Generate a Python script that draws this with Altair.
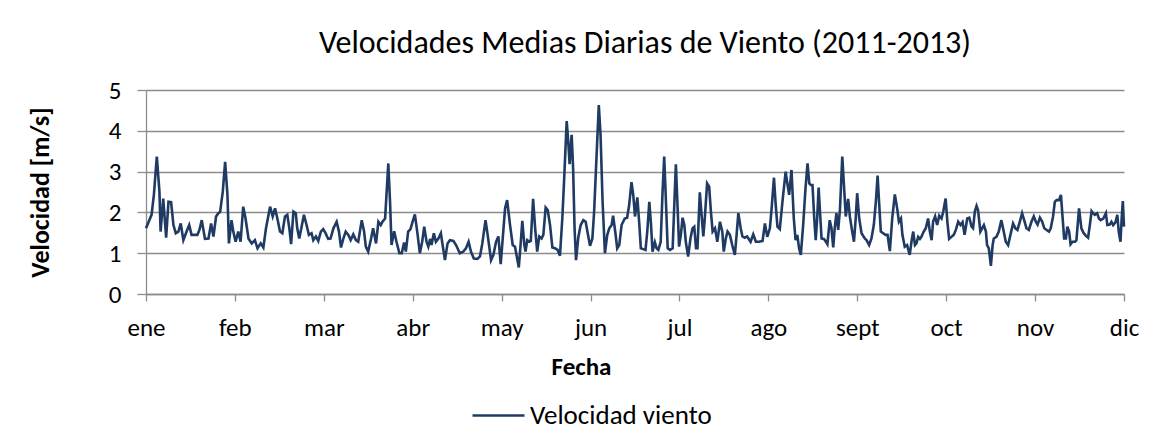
import altair as alt
import pandas as pd

# Day of year (0 = 1 ene, 335 = 1 dic) and daily mean wind speed [m/s]
dia = [
    0.0, 1.9, 2.7, 3.7, 4.6, 5.0, 5.9, 6.9, 7.7, 8.6, 9.4, 10.2, 11.1, 11.9, 12.8, 13.9, 14.8, 15.6, 16.4, 17.6,
    18.3, 19.1, 20.2, 21.4, 22.3, 23.1, 24.0, 24.8, 25.4, 26.3, 27.1, 27.9, 28.4, 29.3, 29.9, 30.7, 31.6, 32.4,
    33.3, 34.1, 35.1, 36.2, 37.3, 38.2, 39.3,
    40.2, 41.1, 42.5, 43.4, 44.2, 45.0, 45.9, 46.7, 47.6, 48.4, 49.1, 49.7, 50.5, 51.3, 51.8, 52.5, 53.3, 54.1,
    55.0, 55.8, 56.7, 57.3, 58.2, 59.0, 59.9, 60.7, 61.5, 62.4, 63.2, 64.2, 65.3, 66.1, 66.8, 67.6, 68.4, 69.3,
    70.1, 71.0, 71.9, 72.7, 73.9, 74.7, 75.3, 76.1, 77.1, 77.8, 78.8, 79.6, 80.4, 81.0, 81.9,
    83.0, 83.6, 84.1, 85.0, 85.8, 86.8, 87.6, 88.4, 89.0, 89.8, 90.6, 91.3, 92.1, 92.9, 93.8, 94.6, 95.3, 96.1,
    96.7, 97.3, 97.8, 98.6, 99.3, 100.1, 101.0, 101.6, 102.4, 103.3, 104.1, 105.3, 106.2, 107.5, 108.7, 109.6,
    110.5, 111.3, 112.3, 113.5, 114.4, 115.2, 116.3, 117.2, 118.2, 119.0, 119.9, 120.7, 121.5, 123.0,
    123.7, 124.7, 125.6, 126.4, 126.9, 127.7, 128.3, 128.9, 129.6, 130.0, 130.6, 131.3, 131.8, 132.6, 133.3,
    134.0, 134.7, 135.5, 136.1, 136.9, 137.6, 138.4, 139.2, 140.1, 141.0, 141.8, 142.6, 143.3, 144.1, 144.6,
    145.1, 145.8, 146.3, 146.8, 147.3, 148.1, 148.9, 149.8, 150.6, 151.3, 152.1, 152.9, 153.5, 154.3, 155.1,
    155.7, 156.4, 157.2, 158.0, 158.7, 159.5, 160.0, 160.8, 161.4, 162.1, 162.9, 164.0,
    164.8, 165.5, 166.3, 166.9, 167.5, 168.3, 169.0, 169.5, 170.3, 171.1, 171.7, 172.4, 173.0, 173.5, 174.3,
    174.9, 175.5, 176.3, 176.9, 177.5, 178.1, 178.7, 179.5, 180.4, 181.0, 181.5, 182.1, 182.6, 183.2, 183.8,
    184.4, 184.9, 185.7, 186.5, 187.2, 187.8, 188.4, 188.9, 189.7, 190.3, 190.9, 191.4, 192.2, 192.9, 193.5,
    194.1, 194.9, 195.7, 196.6, 197.4, 197.9, 198.6, 199.2, 200.0, 200.8, 201.7, 202.3, 202.9, 203.7, 204.3,
    205.1, 205.9, 207.1, 208.0, 208.9, 210.0, 211.2, 212.0, 212.8, 213.7, 214.3, 215.1, 215.7, 216.3, 217.1,
    218.0, 219.1, 219.6, 220.3, 221.1, 221.9, 222.5, 223.1, 223.7, 224.3, 225.1, 225.9, 226.6, 227.2, 227.7,
    228.3, 228.9, 229.4, 229.9, 230.4, 230.8, 231.4, 232.2, 232.9, 233.4, 234.2, 234.8, 235.4, 235.9, 236.5,
    237.1, 237.7, 238.5, 239.2, 239.7, 240.5, 241.1, 241.9, 242.5, 243.1, 243.6, 244.3, 245.1,
    246.2, 246.8, 247.7, 248.5, 249.3, 250.0, 250.6, 251.1, 251.7, 252.5, 253.3, 254.0, 254.8, 255.6, 256.5,
    257.3, 257.9, 258.6, 259.1, 259.9, 260.7, 261.6, 262.2, 262.8, 263.4, 263.9, 264.5, 265.1, 265.6, 266.4,
    267.1, 267.9, 268.5, 269.1, 269.6, 270.3, 271.0, 271.7, 272.5, 273.1, 273.9, 274.5, 275.1, 275.9, 276.7,
    277.4, 278.2, 279.0, 279.7, 280.4, 281.3, 282.0, 282.8, 283.3, 283.9, 284.5, 285.0, 285.8,
    287.0, 287.7, 288.1, 288.7, 289.4, 290.0, 290.4, 291.3, 292.1, 293.0, 293.8, 294.5, 295.3, 296.1, 297.0,
    297.8, 298.5, 299.3, 300.1, 300.8, 301.6, 302.4, 303.3, 304.1, 304.8, 305.4, 306.2, 307.0, 307.7, 308.5,
    309.3, 309.9, 310.7, 311.3, 311.9, 312.7, 313.4, 313.9, 314.5, 315.1, 315.6, 316.2, 316.7, 317.4, 318.2,
    318.7, 319.6, 320.4, 321.2, 321.9, 322.7, 323.3, 323.9, 324.4, 325.0, 325.8, 326.4, 327.0, 327.9, 328.8,
    329.3, 330.1, 330.7, 331.3, 332.1, 332.7, 333.2, 333.8, 334.2, 334.6, 335.0,
]

velocidad = [
    1.61, 1.94, 2.43, 3.37, 2.51, 1.53, 2.34, 1.38, 2.26, 2.25, 1.69, 1.49, 1.53, 1.73, 1.32, 1.53, 1.69, 1.45, 1.45, 1.45,
    1.57, 1.81, 1.35, 1.36, 1.73, 1.41, 1.90, 1.98, 2.02, 2.51, 3.24, 2.43, 1.24, 1.81, 1.53, 1.28, 1.53, 1.28,
    2.14, 1.85, 1.36, 1.24, 1.32, 1.12, 1.24,
    1.14, 1.61, 2.14, 1.90, 2.10, 1.85, 1.53, 1.49, 1.90, 1.94, 1.61, 1.22, 2.02, 1.98, 1.61, 1.36, 1.65, 1.94,
    1.69, 1.45, 1.49, 1.32, 1.41, 1.30, 1.53, 1.59, 1.49, 1.35, 1.36, 1.61, 1.77, 1.53, 1.14, 1.36, 1.53, 1.45,
    1.32, 1.46, 1.32, 1.28, 1.81, 1.53, 1.16, 1.04, 1.36, 1.61, 1.24, 1.77, 1.69, 1.77, 1.85,
    3.20, 2.25, 1.20, 1.54, 1.28, 1.00, 1.00, 1.26, 1.04, 1.53, 1.59, 1.77, 1.95, 1.53, 1.00, 1.28, 1.65, 1.28,
    1.16, 1.35, 1.20, 1.49, 1.28, 1.35, 1.49, 1.20, 0.83, 1.24, 1.32, 1.30, 1.20, 1.00, 1.04, 1.12,
    1.28, 1.04, 0.87, 0.86, 0.92, 1.24, 1.81, 1.36, 0.83, 0.96, 1.28, 1.41, 0.73, 2.10,
    2.30, 1.69, 1.20, 1.16, 0.96, 0.65, 1.20, 1.79, 1.20, 1.04, 1.32, 1.28, 1.30, 2.33, 1.61,
    1.04, 1.41, 1.36, 1.45, 2.12, 2.06, 1.69, 1.14, 1.12, 1.08, 0.94, 1.85, 2.92, 4.24, 3.77,
    3.18, 3.90, 3.08, 1.61, 0.83, 1.40, 1.69, 1.81, 1.77, 1.49, 1.18, 1.36, 2.02, 3.33, 4.63,
    3.90, 2.26, 1.00, 1.45, 1.61, 1.69, 1.92, 1.49, 1.12, 1.20, 1.69, 1.85,
    1.87, 2.18, 2.74, 2.43, 1.90, 2.37, 1.69, 1.12, 1.10, 1.08, 1.53, 2.26, 1.69, 1.04, 1.27,
    1.12, 1.08, 1.28, 2.43, 3.37, 2.26, 1.12, 1.08, 1.12, 2.26, 3.18, 2.10, 1.16, 1.45, 1.87,
    1.69, 1.28, 0.92, 1.36, 1.61, 1.65, 1.12, 1.12, 2.49, 1.94, 1.41, 1.85, 2.71, 2.63, 2.02,
    1.53, 1.61, 1.28, 1.77, 1.53, 1.04, 1.36, 1.53, 1.45, 1.20, 0.96, 1.45, 1.98, 1.61, 1.41,
    1.38, 1.41, 1.28, 1.46, 1.28, 1.28, 1.30, 1.73, 1.40, 1.61, 2.10, 2.85, 2.18, 1.65, 1.59,
    2.26, 3.00, 2.75, 2.43, 3.04, 1.85, 1.32, 1.45, 1.12, 0.96, 1.69, 2.59, 3.20, 2.71, 2.67,
    2.67, 1.85, 1.32, 1.85, 2.61, 2.10, 1.36, 1.35, 1.28, 1.22, 1.81, 1.61, 1.14, 1.61, 1.98,
    1.57, 2.06, 3.37, 2.51, 1.90, 2.33, 1.90, 1.53, 1.28, 1.85, 2.47, 1.85, 1.49,
    1.36, 1.32, 1.20, 1.36, 1.69, 2.26, 2.90, 2.26, 1.53, 1.49, 1.45, 1.45, 1.05, 1.85, 2.44,
    2.10, 1.77, 1.85, 1.45, 1.16, 1.20, 0.96, 1.28, 1.53, 1.20, 1.24, 1.40, 1.35, 1.40, 1.53,
    1.61, 1.85, 1.53, 1.32, 1.77, 1.90, 1.69, 1.92, 1.85, 2.02, 2.34, 1.77, 1.35, 1.40, 1.45,
    1.57, 1.77, 1.69, 1.76, 1.45, 1.85, 1.87, 1.65, 1.61, 2.02, 2.16, 2.06, 1.53,
    1.69, 1.53, 1.20, 1.12, 0.69, 1.20, 1.36, 1.40, 1.53, 1.81, 1.53, 1.28, 1.20, 1.45, 1.73,
    1.61, 1.57, 1.77, 1.98, 1.81, 1.61, 1.57, 1.77, 1.90, 1.77, 1.70, 1.87, 1.77, 1.61, 1.57,
    1.53, 1.61, 1.90, 2.26, 2.30, 2.30, 2.43, 1.94, 1.36, 1.36, 1.65, 1.53, 1.22, 1.28, 1.28,
    1.32, 2.10, 1.61, 1.49, 1.43, 1.38, 1.69, 2.03, 1.98, 1.94, 1.98, 1.85, 1.81, 1.85, 1.98,
    1.69, 1.70, 1.77, 1.69, 1.76, 1.94, 1.53, 1.28, 1.85, 2.28, 1.65,
]

meses = ["ene", "feb", "mar", "abr", "may", "jun", "jul", "ago", "sept", "oct", "nov", "dic"]
serie = "Velocidad viento"

df = pd.DataFrame({"dia": dia, "velocidad": velocidad, "serie": serie})

dias_total = 335
tick_vals = [i * dias_total / 11 for i in range(12)]
meses_expr = "[" + ",".join("'%s'" % m for m in meses) + "]"

FONT = "Carlito, Lato, sans-serif"
GRID = "#8c8c8c"
LINE = "#1f3a63"

chart = (
    alt.Chart(df)
    .mark_line(strokeWidth=2.6, interpolate="linear")
    .encode(
        x=alt.X(
            "dia:Q",
            scale=alt.Scale(domain=[0, dias_total], nice=False, zero=False),
            axis=alt.Axis(
                values=tick_vals,
                labelExpr=meses_expr + "[round(datum.value / (" + str(dias_total) + " / 11))]",
                title="Fecha",
                grid=False,
                tickSize=7,
                labelPadding=14,
                labelFontSize=25,
                titleFontSize=25,
                titleFontWeight="bold",
                titlePadding=14,
                titleX=435,
                labelFlush=False,
                labelOverlap=False,
            ),
        ),
        y=alt.Y(
            "velocidad:Q",
            scale=alt.Scale(domain=[0, 5], nice=False),
            axis=alt.Axis(
                values=[0, 1, 2, 3, 4, 5],
                title="Velocidad [m/s]",
                grid=True,
                tickSize=9,
                labelPadding=16,
                labelFontSize=25,
                titleFontSize=26,
                titleFontWeight="bold",
                titlePadding=55,
            ),
        ),
        color=alt.Color(
            "serie:N",
            scale=alt.Scale(domain=[serie], range=[LINE]),
            legend=alt.Legend(
                title=None,
                orient="none",
                legendX=325,
                legendY=298,
                symbolType="stroke",
                symbolSize=2704,
                symbolStrokeWidth=2.6,
                labelFontSize=27,
                labelOffset=4,
                labelLimit=400,
            ),
        ),
    )
    .properties(
        width=978,
        height=204,
        title=alt.TitleParams(
            "Velocidades Medias Diarias de Viento (2011-2013)",
            fontSize=32,
            fontWeight="normal",
            color="black",
            font=FONT,
            offset=18,
            dx=10,
        ),
        padding={"left": 138, "top": 82, "right": 37, "bottom": 138},
        autosize=alt.AutoSizeParams(type="none"),
    )
    .configure(font=FONT)
    .configure_axis(
        labelFont=FONT,
        titleFont=FONT,
        labelColor="black",
        titleColor="black",
        gridColor=GRID,
        gridWidth=1.3,
        domainColor=GRID,
        domainWidth=1.3,
        tickColor=GRID,
        tickWidth=1.3,
    )
    .configure_legend(labelFont=FONT, labelColor="black")
    .configure_view(stroke=None)
)

chart.save("out.html", embed_options={"renderer": "svg", "actions": False})
